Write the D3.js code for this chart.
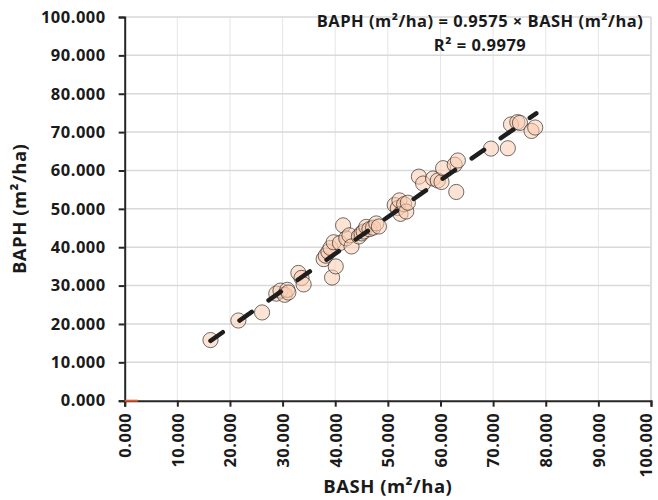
<!DOCTYPE html>
<html>
<head>
<meta charset="utf-8">
<script src="https://cdn.jsdelivr.net/npm/d3@7"></script>
<style>
  html, body { margin: 0; padding: 0; background: #fff; }
  svg { display: block; }
  text { font-family: "Open Sans", "Liberation Sans", sans-serif; font-weight: 700; fill: #1a1a1a; }
</style>
</head>
<body>
<svg id="chart" width="658" height="500"></svg>
<script>
// Basal area from stand-level (BASH) vs plot-level (BAPH) estimates, m²/ha
const bash = [16.3, 21.6, 26.1, 28.8, 29.6, 30.4, 30.9, 31.1, 33.0, 33.6, 34.0,
  37.8, 38.2, 38.7, 39.1, 39.4, 39.7, 40.1, 40.9, 41.5, 42.1, 42.7, 43.1,
  44.5, 45.0, 45.4, 45.9, 46.5, 47.2, 47.8, 48.3,
  51.3, 51.9, 52.2, 52.4, 53.1, 53.5, 53.8,
  55.9, 56.7, 58.6, 59.5, 60.2, 60.5, 62.7, 63.3, 63.0,
  69.6, 72.8, 73.4, 74.6, 75.1, 77.3, 78.0];
const baph = [15.8, 20.9, 23.0, 27.9, 28.7, 27.6, 28.9, 28.2, 33.3, 32.0, 30.3,
  36.9, 37.8, 38.8, 39.8, 32.1, 41.3, 35.0, 41.1, 45.7, 42.3, 43.1, 40.2,
  42.8, 43.6, 44.1, 45.3, 44.7, 45.1, 46.2, 45.4,
  51.0, 50.2, 52.2, 48.7, 51.2, 49.3, 51.6,
  58.4, 56.6, 57.9, 57.4, 57.0, 60.6, 61.5, 62.6, 54.4,
  65.7, 65.8, 72.0, 72.6, 72.4, 70.3, 71.2];

const slope = 0.9575;
const rSquared = 0.9979;
const fitRange = [16.3, 78.2];
const originSegment = [[0, 0], [2.5, 0]];

const xTicks = d3.range(0, 101, 10);
const yTicks = d3.range(0, 101, 10);

const svg = d3.select("#chart");
svg.append("rect").attr("width", 658).attr("height", 500).attr("fill", "#fff");

const margin = { left: 124.7, right: 7, top: 17, bottom: 99.3 };
const W = 658, H = 500;
const x = d3.scaleLinear().domain([0, 100]).range([margin.left, W - margin.right]);
const y = d3.scaleLinear().domain([0, 100]).range([H - margin.bottom, margin.top]);

const fmt = d3.format(".3f");
const labelFont = 16.5, labelSpacing = 0.5;

// vertical gridlines
svg.append("g").selectAll("line").data(xTicks.slice(1)).join("line")
  .attr("x1", d => x(d)).attr("x2", d => x(d))
  .attr("y1", y(0)).attr("y2", y(100))
  .attr("stroke", d => d === 100 ? "#d4d4d4" : "#e6e6e6")
  .attr("stroke-width", d => d === 100 ? 1.5 : 1);

// horizontal gridlines
svg.append("g").selectAll("line").data(yTicks.slice(1)).join("line")
  .attr("x1", x(0)).attr("x2", x(100))
  .attr("y1", d => y(d)).attr("y2", d => y(d))
  .attr("stroke", "#d9d9d9").attr("stroke-width", 1.5);

// axes
const yAxis = d3.axisLeft(y).tickValues(yTicks).tickFormat(fmt).tickSize(6).tickPadding(13);
const gy = svg.append("g").attr("transform", `translate(${x(0)},0)`).call(yAxis);
gy.select(".domain").attr("stroke", "#262626").attr("stroke-width", 2);
gy.selectAll(".tick line").attr("stroke", "#262626").attr("stroke-width", 2);
gy.selectAll(".tick text").attr("font-size", labelFont).attr("letter-spacing", labelSpacing)
  .attr("fill", "#1a1a1a").attr("font-family", "'Open Sans', sans-serif").attr("font-weight", 700);

const xAxis = d3.axisBottom(x).tickValues(xTicks).tickFormat(fmt).tickSize(6).tickPadding(12);
const gx = svg.append("g").attr("transform", `translate(0,${y(0)})`).call(xAxis);
gx.select(".domain").attr("stroke", "#262626").attr("stroke-width", 2);
gx.selectAll(".tick line").attr("stroke", "#262626").attr("stroke-width", 2);
gx.selectAll(".tick text").attr("font-size", labelFont).attr("letter-spacing", labelSpacing)
  .attr("fill", "#1a1a1a").attr("font-family", "'Open Sans', sans-serif").attr("font-weight", 700)
  .attr("transform", "rotate(-90)")
  .attr("text-anchor", "end")
  // keep the rightmost label inside the canvas edge
  .attr("dy", d => d === 100 ? "0.05em" : "0.35em")
  .attr("x", -12).attr("y", 0);

// short orange segment along the x axis at the origin
svg.append("path").datum(originSegment)
  .attr("d", d3.line().x(d => x(d[0])).y(d => y(d[1])))
  .attr("stroke", "#e4572e").attr("stroke-width", 2).attr("fill", "none");

// scatter points
const pts = bash.map((v, i) => ({ bash: v, baph: baph[i] }));
svg.append("g").selectAll("circle").data(pts).join("circle")
  .attr("cx", d => x(d.bash)).attr("cy", d => y(d.baph)).attr("r", 7.6)
  .attr("fill", "rgba(250, 204, 176, 0.55)")
  .attr("stroke", "rgba(20, 20, 20, 0.6)").attr("stroke-width", 1);

// regression line through the origin
svg.append("path").datum(fitRange.map(v => [v, slope * v]))
  .attr("d", d3.line().x(d => x(d[0])).y(d => y(d[1])))
  .attr("stroke", "#1e1e1e").attr("stroke-width", 4.5)
  .attr("stroke-linecap", "round").attr("stroke-dasharray", "15,20.4")
  .attr("fill", "none");

// equation
const eq = svg.append("g").attr("font-size", labelFont).attr("letter-spacing", labelSpacing)
  .attr("text-anchor", "middle");
eq.append("text").attr("x", 480).attr("y", 26.5)
  .text(`BAPH (m²/ha) = ${slope} × BASH (m²/ha)`);
eq.append("text").attr("x", 480).attr("y", 50.5)
  .text(`R² = ${rSquared}`);

// axis titles
svg.append("text").attr("font-size", 18.5).attr("letter-spacing", 0.5).attr("text-anchor", "middle")
  .attr("x", (x(0) + x(100)) / 2).attr("y", 493)
  .text("BASH (m²/ha)");
svg.append("text").attr("font-size", 18.5).attr("letter-spacing", 0.5).attr("text-anchor", "middle")
  .attr("transform", `translate(26,${(y(0) + y(100)) / 2}) rotate(-90)`)
  .text("BAPH (m²/ha)");
</script>
</body>
</html>
